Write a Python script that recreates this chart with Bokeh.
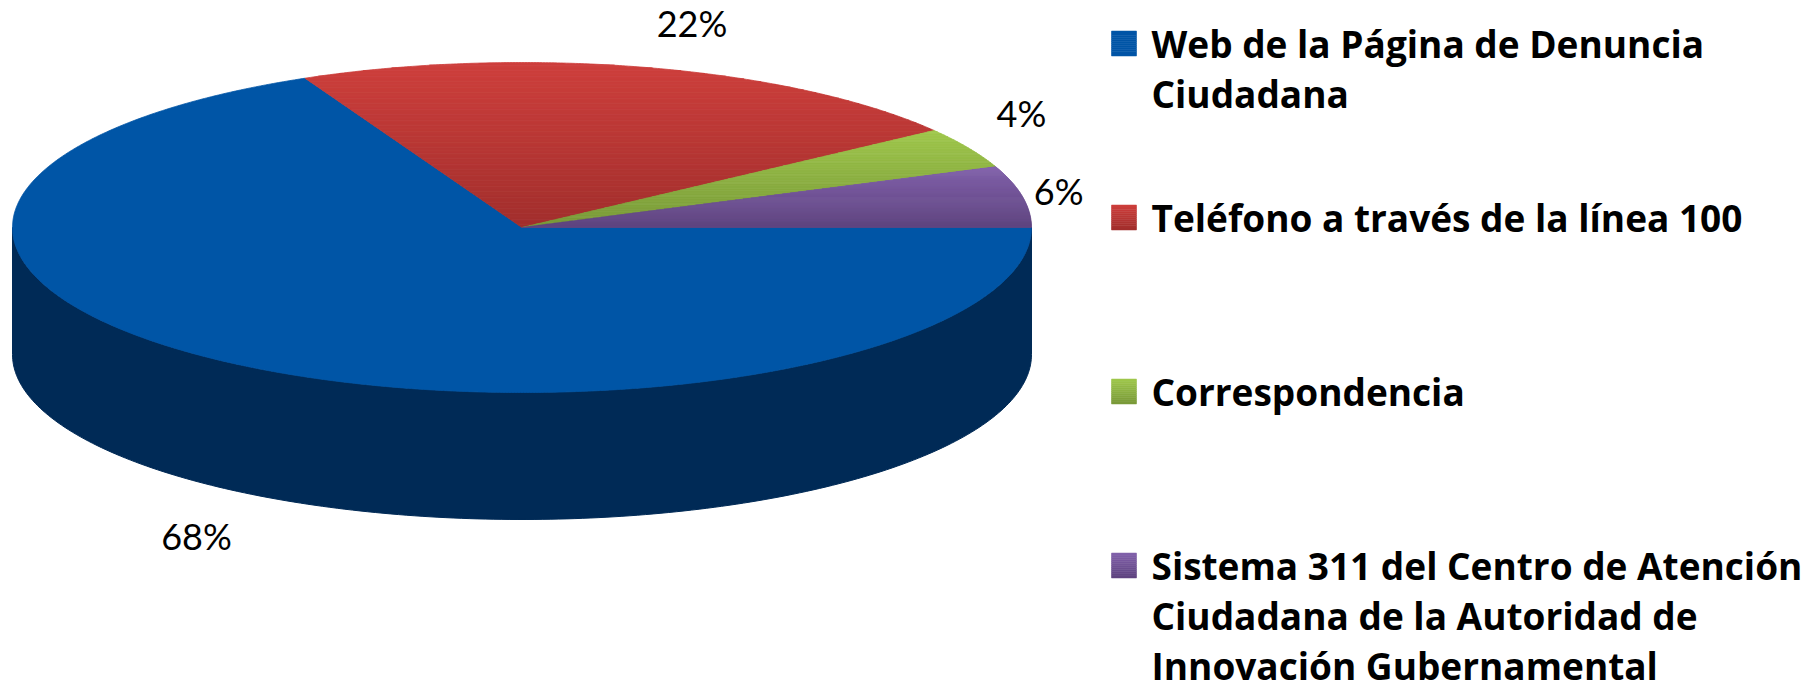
import numpy as np
from bokeh.plotting import figure
from bokeh.models import Range1d
from bokeh.core.properties import value
from bokeh.embed import file_html
from bokeh.resources import INLINE

# ---------------- data ----------------
categories = [
    "Web de la Página de Denuncia Ciudadana",
    "Teléfono a través de la línea 100",
    "Correspondencia",
    "Sistema 311 del Centro de Atención Ciudadana de la Autoridad de Innovación Gubernamental",
]
legend_lines = [
    ["Web de la Página de Denuncia", "Ciudadana"],
    ["Teléfono a través de la línea 100"],
    ["Correspondencia"],
    ["Sistema 311 del Centro de Atención", "Ciudadana de la Autoridad de", "Innovación Gubernamental"],
]
shares = [68, 22, 4, 6]
pct_labels = ["68%", "22%", "4%", "6%"]
top_colors = ["#0055A6", "#CE3F3C", "#A0C84C", "#8262AB"]
bottom_colors = ["#0055A6", "#A12E2C", "#789838", "#5E437F"]
side_colors = ["#002A56", "#6E1F1E", "#536A26", "#3F2D57"]

# ---------------- layout ----------------
W, H = 1806, 680
CX, CY = 521.5, 227.0      # centre of the top ellipse
A, B = 509.5, 165.0        # semi axes of the top ellipse
DEPTH = 127.0              # thickness of the pie
LABEL_GAP = 32.0
LABEL_HALF_H = 13.0
LABEL_FS = 36.0
N_BANDS = 60

LEG_X_BOX, BOX = 1111.0, 25.0
LEG_X_TEXT = 1151.0
LEG_FS = 37.0
LEG_FIRST, LEG_STEP, LINE_H = 43.0, 174.0, 50.0   # y of first line centre, item step, line step
LABEL_X_MAX = LEG_X_BOX - 28.0

p = figure(width=W, height=H, x_range=Range1d(0, W), y_range=Range1d(H, 0),
           output_backend="svg", toolbar_location=None, min_border=0,
           x_axis_type=None, y_axis_type=None)
p.grid.visible = False
p.outline_line_color = None
p.background_fill_color = "white"
p.border_fill_color = "white"


def hex2rgb(h):
    h = h.lstrip("#")
    return np.array([int(h[i:i + 2], 16) for i in (0, 2, 4)], dtype=float)


def mix(c0, c1, t):
    c = hex2rgb(c0) * (1 - t) + hex2rgb(c1) * t
    return "#%02x%02x%02x" % tuple(int(round(v)) for v in c)


def clip_half(pts, y_lim, keep_greater):
    out = []
    n = len(pts)
    for i in range(n):
        cur = pts[i]
        prev = pts[i - 1]
        cin = cur[1] >= y_lim if keep_greater else cur[1] <= y_lim
        pin = prev[1] >= y_lim if keep_greater else prev[1] <= y_lim
        if cin:
            if not pin:
                t = (y_lim - prev[1]) / (cur[1] - prev[1])
                out.append((prev[0] + t * (cur[0] - prev[0]), y_lim))
            out.append(cur)
        elif pin:
            t = (y_lim - prev[1]) / (cur[1] - prev[1])
            out.append((prev[0] + t * (cur[0] - prev[0]), y_lim))
    return out


def ell(t, dy=0.0):
    r = np.radians(t)
    return CX + A * np.cos(r), CY - B * np.sin(r) + dy


total = float(sum(shares))
cum = np.concatenate([[0.0], np.cumsum(shares)])
starts = -360.0 * cum[:-1] / total   # clockwise from east
ends = -360.0 * cum[1:] / total

# ----- side walls (front half only: angles in [-180, 0]) -----
side_xs, side_ys, side_c = [], [], []
for i in range(len(shares)):
    s, e = starts[i], ends[i]          # s > e
    lo, hi = max(e, -180.0), min(s, 0.0)
    if hi <= lo:
        continue
    ts = np.linspace(hi, lo, 200)
    x1, y1 = ell(ts)
    x2, y2 = ell(ts[::-1], DEPTH)
    side_xs.append(list(np.concatenate([x1, x2])))
    side_ys.append(list(np.concatenate([y1, y2])))
    side_c.append(side_colors[i])
p.patches(side_xs, side_ys, fill_color=side_c, line_color=side_c, line_width=1)

# ----- top faces with vertical gradient -----
pxs, pys, pcs = [], [], []
for i in range(len(shares)):
    ts = np.linspace(starts[i], ends[i], max(8, int(abs(ends[i] - starts[i]) * 3)))
    ax, ay = ell(ts)
    pts = [(CX, CY)] + list(zip(ax, ay))
    if top_colors[i] == bottom_colors[i]:
        pxs.append([q[0] for q in pts]); pys.append([q[1] for q in pts]); pcs.append(top_colors[i])
        continue
    ymin = min(q[1] for q in pts); ymax = max(q[1] for q in pts)
    edges = np.linspace(ymin, ymax, N_BANDS + 1)
    for k in range(N_BANDS):
        band = clip_half(pts, edges[k], True)
        if len(band) < 3:
            continue
        band = clip_half(band, edges[k + 1], False)
        if len(band) < 3:
            continue
        col = mix(top_colors[i], bottom_colors[i], (k + 0.5) / N_BANDS)
        pxs.append([q[0] for q in band]); pys.append([q[1] for q in band]); pcs.append(col)
p.patches(pxs, pys, fill_color=pcs, line_color=pcs, line_width=0.8)

# ----- percentage labels (outside end) -----
for i in range(len(shares)):
    m = np.radians((starts[i] + ends[i]) / 2.0)
    c, s = np.cos(m), np.sin(m)
    px, py = ell(np.degrees(m), DEPTH if s < 0 else 0.0)
    x = px + LABEL_GAP * c
    if s > 0.3:
        y = py - LABEL_GAP * np.sqrt(s) - LABEL_HALF_H
    elif s < -0.3:
        y = py + LABEL_GAP * np.sqrt(-s) + LABEL_HALF_H
    else:
        y = py - LABEL_GAP * s
    align = "left" if c >= 0 else "right"
    est_w = 0.62 * LABEL_FS * len(pct_labels[i])
    if align == "left" and x + est_w > LABEL_X_MAX:
        x, align = LABEL_X_MAX, "right"
    p.text(x=[x], y=[y], text=[pct_labels[i]], text_font=value("Lato"),
           text_font_size="%dpx" % LABEL_FS, text_color="black", text_align=align,
           text_baseline="middle")

# ----- legend -----
for i, lines in enumerate(legend_lines):
    yc = LEG_FIRST + i * LEG_STEP
    top = yc - BOX / 2.0
    nb = 12
    e = np.linspace(top, top + BOX, nb + 1)
    cols = [mix(top_colors[i], bottom_colors[i], (k + 0.5) / nb) for k in range(nb)]
    p.quad(left=[LEG_X_BOX] * nb, right=[LEG_X_BOX + BOX] * nb, top=list(e[:-1]),
           bottom=list(e[1:]), fill_color=cols, line_color=cols, line_width=0.5)
    p.text(x=[LEG_X_TEXT] * len(lines), y=[yc + j * LINE_H for j in range(len(lines))],
           text=lines, text_font=value("Open Sans"), text_font_style="bold",
           text_font_size="%dpx" % LEG_FS, text_color="black", text_align="left",
           text_baseline="middle")

open("out.html", "w").write(file_html(p, INLINE))
